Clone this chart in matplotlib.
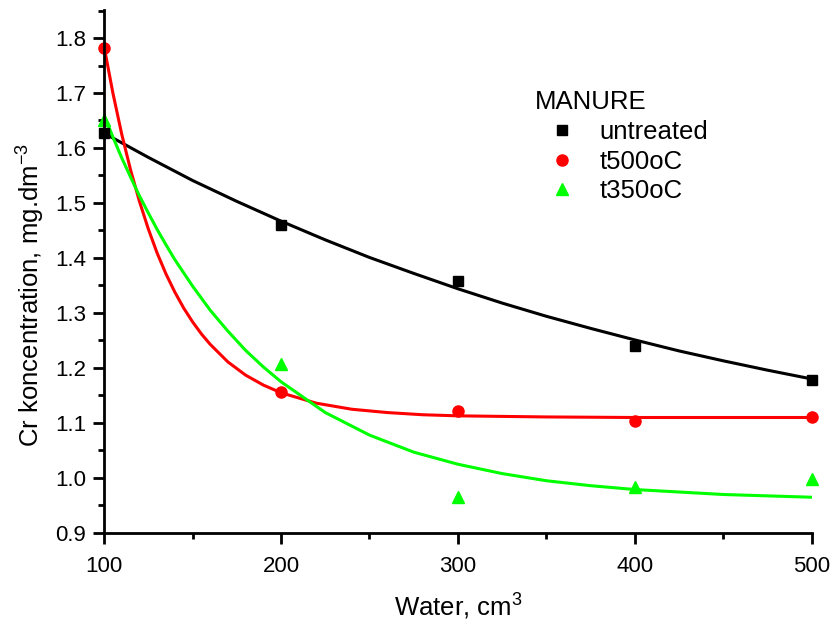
'''
Cr concentration in water extracts of manure
'''

import matplotlib
matplotlib.use('Agg')
import matplotlib.pyplot as plt
from matplotlib.ticker import MultipleLocator, FormatStrFormatter

plt.rcParams['font.family'] = ['Liberation Sans', 'DejaVu Sans']
plt.rcParams['mathtext.fontset'] = 'custom'
plt.rcParams['mathtext.rm'] = 'Liberation Sans'
plt.rcParams['mathtext.it'] = 'Liberation Sans'

# measured points
water = [100, 200, 300, 400, 500]
untreated = [1.627, 1.460, 1.358, 1.240, 1.178]
t500 = [1.781, 1.157, 1.121, 1.103, 1.110]
t350 = [1.651, 1.208, 0.965, 0.984, 0.998]

# fitted curves
fit_x_black = [100, 125, 150, 175, 200, 225, 250, 275, 300, 325, 350, 375, 400, 425, 450, 475, 500]
fit_black = [1.627, 1.583, 1.541, 1.503, 1.467, 1.433, 1.401, 1.372, 1.344, 1.318, 1.294,
             1.272, 1.251, 1.231, 1.213, 1.196, 1.180]

fit_x_red = [100, 105, 110, 115, 120, 125, 130, 135, 140, 145, 150, 155, 160, 170, 180, 190,
             200, 220, 240, 260, 280, 300, 350, 400, 450, 500]
fit_red = [1.785, 1.700, 1.625, 1.560, 1.503, 1.453, 1.409, 1.371, 1.338, 1.309, 1.284, 1.262,
           1.243, 1.211, 1.187, 1.169, 1.155, 1.136, 1.125, 1.119, 1.115, 1.113, 1.111, 1.110,
           1.110, 1.110]

fit_x_green = [100, 105, 110, 115, 120, 125, 130, 135, 140, 150, 160, 170, 180, 190, 200, 225,
               250, 275, 300, 325, 350, 375, 400, 450, 500]
fit_green = [1.660, 1.620, 1.582, 1.547, 1.513, 1.482, 1.452, 1.424, 1.397, 1.349, 1.305, 1.267,
             1.232, 1.202, 1.175, 1.119, 1.078, 1.047, 1.025, 1.008, 0.995, 0.986, 0.979, 0.970,
             0.965]

fig = plt.figure(figsize=(8.31, 6.22), dpi=100)
ax = fig.add_axes([0.1252, 0.1431, 0.977 - 0.1252, 0.984 - 0.1431])

# fit lines first, points on top
ax.plot(fit_x_black, fit_black, color='black', lw=2.2)
ax.plot(fit_x_red, fit_red, color='#ff0000', lw=2.2)
ax.plot(fit_x_green, fit_green, color='#00ff00', lw=2.2)

ax.plot(water, untreated, 's', color='black', ms=7, clip_on=False, label='untreated')
ax.plot(water, t500, 'o', color='#ff0000', ms=8, clip_on=False, label='t500oC')
ax.plot(water, t350, '^', color='#00ff00', ms=8.5, clip_on=False, label='t350oC')

ax.set_xlim(100, 500)
ax.set_ylim(0.9, 1.851)
ax.xaxis.set_major_locator(MultipleLocator(100))
ax.xaxis.set_minor_locator(MultipleLocator(50))
ax.yaxis.set_major_locator(MultipleLocator(0.1))
ax.yaxis.set_minor_locator(MultipleLocator(0.05))
ax.yaxis.set_major_formatter(FormatStrFormatter('%.1f'))

for side in ['top', 'right']:
    ax.spines[side].set_visible(False)
for side in ['left', 'bottom']:
    ax.spines[side].set_linewidth(2)
ax.tick_params(which='major', direction='out', length=8, width=2, labelsize=16, pad=5)
ax.tick_params(which='minor', direction='out', length=4.5, width=2)
ax.tick_params(axis='x', which='major', pad=8.5)

ax.set_xlabel('Water, cm$^3$', fontsize=18.5, labelpad=10.5)
ax.set_ylabel('Cr koncentration, mg.dm$^{-3}$', fontsize=18.5)
ax.yaxis.set_label_coords(-0.081, 0.455)

leg = ax.legend(title='MANURE', loc='upper left', bbox_to_anchor=(0.5935, 0.866),
                frameon=False, fontsize=18.5, title_fontsize=18.5, alignment='left',
                handletextpad=0.35, handlelength=2.18, labelspacing=0.22, borderaxespad=0)

fig.savefig('out.png', dpi=100)
